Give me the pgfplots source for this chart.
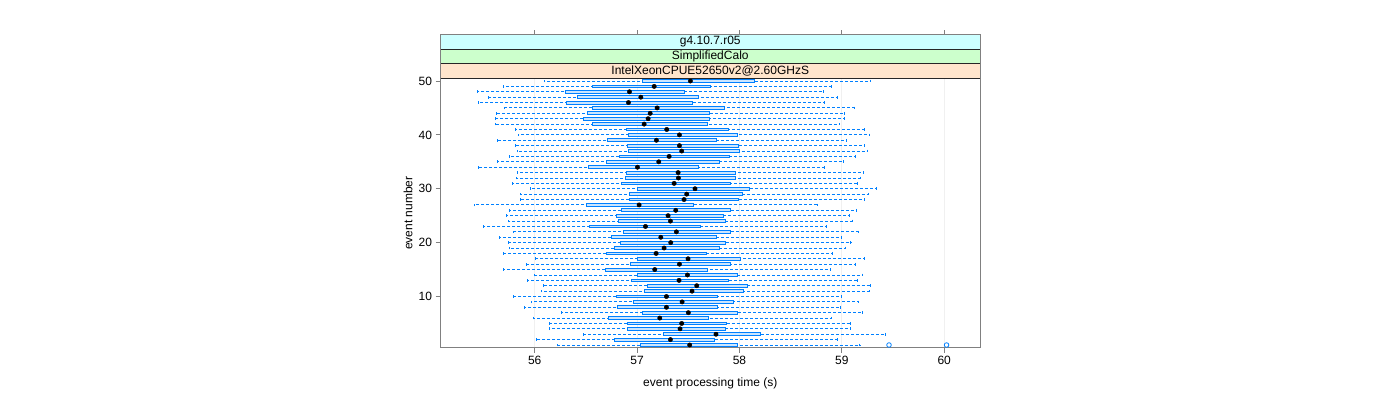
\documentclass[border=0pt]{standalone}
\usepackage{pgfplots}
\pgfplotsset{compat=1.18}
\usepackage{pgfplotstable}
\usetikzlibrary{calc}
\usepackage{fontspec}
\setmainfont{Liberation Sans}
\definecolor{lblue}{HTML}{0080FF}
\definecolor{lfill}{HTML}{CCE6FF}
\definecolor{stripA}{HTML}{FFE5CC}
\definecolor{stripB}{HTML}{CCFFCC}
\definecolor{stripC}{HTML}{CCFFFF}
\definecolor{frame}{gray}{0.5}

% ev: event number; lw/uw: whisker ends; lq/uq: quartiles; med: median
\pgfplotstableread{
ev lw     lq     med    uq     uw
1  56.221 57.030 57.514 57.982 59.175
2  56.016 56.783 57.326 57.752 58.957
3  56.474 57.254 57.771 58.210 59.425
4  56.143 56.903 57.420 57.859 59.081
5  56.143 56.910 57.436 57.869 59.081
6  55.984 56.725 57.222 57.693 58.902
7  56.266 57.050 57.501 57.982 59.201
8  55.899 56.812 57.287 57.787 58.987
9  55.964 56.968 57.440 57.940 59.162
10 55.792 56.803 57.287 57.781 58.993
11 56.065 57.069 57.537 58.044 59.269
12 56.081 57.105 57.583 58.080 59.282
13 55.932 56.942 57.410 57.888 59.152
14 55.997 57.001 57.492 57.982 59.204
15 55.695 56.692 57.173 57.683 58.889
16 55.922 56.933 57.414 57.911 59.133
17 56.006 57.001 57.498 58.012 59.221
18 55.695 56.702 57.186 57.674 58.905
19 55.756 56.777 57.264 57.800 59.035
20 55.743 56.835 57.329 57.864 59.088
21 55.659 56.751 57.232 57.771 58.996
22 55.792 56.871 57.384 57.917 59.159
23 55.496 56.539 57.082 57.622 58.850
24 55.743 56.822 57.326 57.864 59.107
25 55.721 56.803 57.303 57.839 59.074
26 55.753 56.845 57.378 57.908 59.146
27 55.415 56.504 57.020 57.553 58.762
28 55.857 56.923 57.459 57.989 59.221
29 55.864 56.929 57.485 58.025 59.260
30 55.961 57.007 57.566 58.099 59.341
31 55.782 56.851 57.362 57.908 59.152
32 55.825 56.884 57.404 57.960 59.182
33 55.831 56.894 57.401 57.960 59.211
34 55.451 56.523 57.004 57.602 58.831
35 55.636 56.702 57.212 57.800 59.016
36 55.753 56.832 57.313 57.898 59.130
37 55.831 56.920 57.436 58.002 59.250
38 55.808 56.910 57.414 57.992 59.221
39 55.633 56.712 57.189 57.771 59.048
40 55.841 56.920 57.414 57.979 59.269
41 55.808 56.900 57.290 57.888 59.221
42 55.613 56.562 57.069 57.683 58.977
43 55.620 56.481 57.108 57.703 59.026
44 55.626 56.513 57.128 57.709 59.026
45 55.704 56.569 57.196 57.849 59.120
46 55.451 56.312 56.916 57.540 58.834
47 55.545 56.422 57.037 57.596 58.954
48 55.441 56.296 56.926 57.459 58.821
49 55.695 56.562 57.167 57.719 58.896
50 56.091 57.050 57.521 58.151 59.279
}\boxdata

\pgfplotstableread{
ev t
1 59.461
1 60.023
}\outdata

\begin{document}
\begin{tikzpicture}
\path[use as bounding box] (0,0) rectangle (1400pt,400pt);
\begin{axis}[
  name=ax,
  at={(440.5pt,52.3pt)}, anchor=south west,
  scale only axis, width=539.5pt, height=269.4pt,
  xmin=55.08, xmax=60.35, ymin=0.5, ymax=50.5,
  xtick={56,57,58,59,60}, ytick={10,20,30,40,50},
  tick align=outside, major tick length=5pt,
  xtick pos=bottom, ytick pos=left,
  tick style={frame, line width=0.8pt},
  axis line style={frame, line width=0.8pt},
  xmajorgrids, grid style={gray!12, line width=0.8pt},
  /pgf/number format/assume math mode=true,
  tick label style={font=\fontsize{12}{14}\selectfont},
  label style={font=\fontsize{12}{14}\selectfont},
  xlabel={event processing time (s)},
  ylabel={event number},
  xlabel style={at={(axis description cs:0.5,0)}, anchor=center, yshift=-36pt},
  ylabel style={at={(axis description cs:0,0.5)}, anchor=center, yshift=32.5pt},
  clip=false,
]
% whiskers (dashed, with caps) from lower to upper whisker end
\addplot[draw=none, mark=none, forget plot,
  error bars/.cd, x dir=both, x explicit,
  error bar style={draw=lblue, line width=0.9pt, dash pattern=on 3pt off 2pt},
  error mark options={draw=lblue, solid, line width=0.9pt, mark size=1.35pt, rotate=90}]
  table[x=med, y=ev,
        x error plus expr=\thisrow{uw}-\thisrow{med},
        x error minus expr=\thisrow{med}-\thisrow{lw}] {\boxdata};
% boxes from lower to upper quartile
\pgfplotsinvokeforeach{0,...,49}{
  \pgfplotstablegetelem{#1}{ev}\of\boxdata \let\bev\pgfplotsretval
  \pgfplotstablegetelem{#1}{lq}\of\boxdata \let\blq\pgfplotsretval
  \pgfplotstablegetelem{#1}{uq}\of\boxdata \let\buq\pgfplotsretval
  \pgfmathsetmacro\ya{\bev-0.26}
  \pgfmathsetmacro\yb{\bev+0.26}
  \edef\doplot{\noexpand\addplot[draw=lblue, fill=lfill, line width=0.9pt, mark=none]
    coordinates {(\blq,\ya) (\buq,\ya) (\buq,\yb) (\blq,\yb)} -- cycle;}
  \doplot
}
\addplot[only marks, mark=*, mark size=2.2pt, black] table[x=med, y=ev] {\boxdata};
\addplot[only marks, mark=o, mark size=2.3pt, draw=lblue, line width=0.8pt] table[x=t, y=ev] {\outdata};
\end{axis}
% strips above the panel
\begin{scope}[font=\fontsize{12}{14}\selectfont]
\fill[stripA] (ax.north west) rectangle ([yshift=14.53pt]ax.north east);
\fill[stripB] ([yshift=14.53pt]ax.north west) rectangle ([yshift=29.07pt]ax.north east);
\fill[stripC] ([yshift=29.07pt]ax.north west) rectangle ([yshift=43.6pt]ax.north east);
\draw[black!85, line width=0.8pt] (ax.north west) -- (ax.north east);
\draw[black!85, line width=0.8pt] ([yshift=14.53pt]ax.north west) -- ([yshift=14.53pt]ax.north east);
\draw[black!85, line width=0.8pt] ([yshift=29.07pt]ax.north west) -- ([yshift=29.07pt]ax.north east);
\draw[frame, line width=0.8pt] (ax.north west) -- ([yshift=43.6pt]ax.north west) -- ([yshift=43.6pt]ax.north east) -- (ax.north east);
\node at ([yshift=7.27pt]ax.north) {IntelXeonCPUE52650v2@2.60GHzS};
\node at ([yshift=21.8pt]ax.north) {SimplifiedCalo};
\node at ([yshift=36.33pt]ax.north) {g4.10.7.r05};
% top ticks at 56,...,60 (same positions as the bottom ticks)
\foreach \f in {0.17457,0.36433,0.55408,0.74383,0.93359}
  \draw[frame, line width=0.8pt] ($(ax.north west)!\f!(ax.north east)$) ++(0,43.6pt) -- ++(0,5pt);
\end{scope}
\end{tikzpicture}
\end{document}
